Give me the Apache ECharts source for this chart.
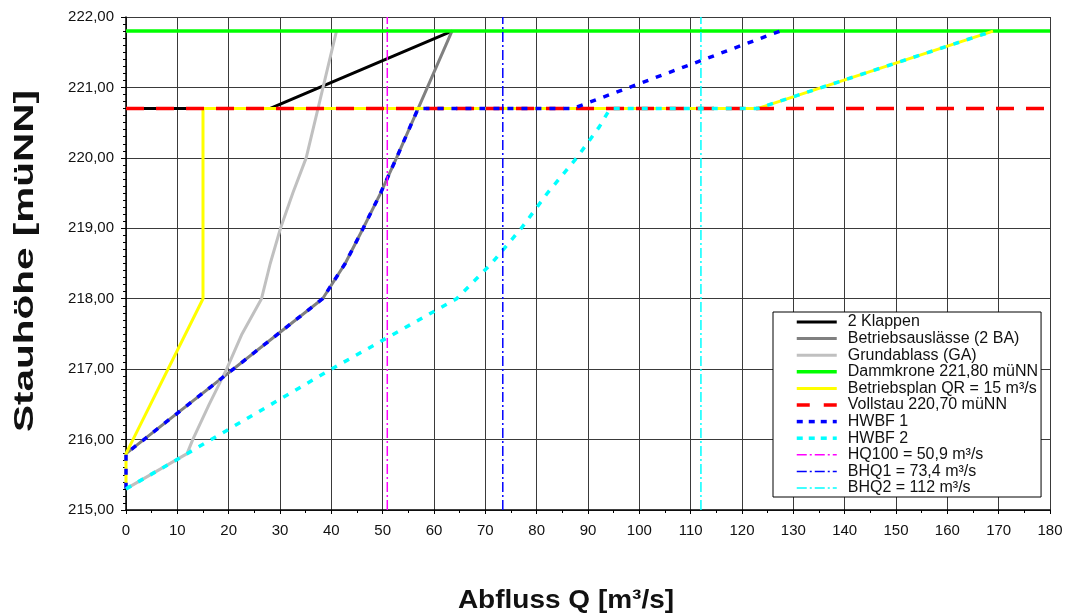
<!DOCTYPE html>
<html>
<head>
<meta charset="utf-8">
<script src="https://cdn.jsdelivr.net/npm/echarts@6/dist/echarts.min.js"></script>
<style>
  html, body { margin: 0; padding: 0; background: #fff; }
  #chart { width: 1067px; height: 616px; }
</style>
</head>
<body>
<div id="chart"></div>
<script>
// Abflusskurven: Stauhöhe [müNN] über Abfluss Q [m³/s]
const klappen = [[0, 220.70], [28.0, 220.70], [63.5, 221.80]];
const betriebsauslaesse = [[0, 215.80], [38.3, 218.00], [42.7, 218.50], [46.2, 219.00], [49.6, 219.50], [52.7, 220.00], [56.9, 220.70], [60.2, 221.25], [63.5, 221.80]];
const grundablass = [[0, 215.30], [11.9, 215.80], [13.0, 216.00], [16.2, 216.50], [19.6, 217.00], [22.6, 217.50], [26.4, 218.00], [28.1, 218.50], [30.1, 219.00], [32.5, 219.50], [35.1, 220.00], [37.4, 220.70], [41.0, 221.80]];
const dammkrone = [[0, 221.80], [180, 221.80]];
const betriebsplan = [[0, 215.30], [0, 215.80], [15.0, 218.00], [15.0, 220.70], [123.0, 220.70], [168.9, 221.80]];
const vollstau = [[0, 220.70], [180, 220.70]];
const hwbf1 = [[0, 215.30], [0, 215.80], [38.3, 218.00], [42.7, 218.50], [46.2, 219.00], [49.6, 219.50], [52.7, 220.00], [56.9, 220.70], [87.0, 220.70], [127.4, 221.80]];
const hwbf2 = [[0, 215.30], [11.9, 215.80], [40.0, 217.00], [64.4, 218.00], [71.2, 218.50], [77.0, 219.00], [82.1, 219.50], [87.8, 220.00], [92.2, 220.44], [94.3, 220.70], [123.0, 220.70], [168.9, 221.80]];
const hq100 = [[50.9, 215], [50.9, 222]];
const bhq1 = [[73.4, 215], [73.4, 222]];
const bhq2 = [[112, 215], [112, 222]];

const FONT = '"Liberation Sans", Arial, sans-serif';
const dashDot = [10, 3, 2, 3];

const seriesDefs = [
  { name: '2 Klappen', data: klappen, color: '#000000', width: 3, type: 'solid', z: 2 },
  { name: 'Betriebsauslässe (2 BA)', data: betriebsauslaesse, color: '#808080', width: 3, type: 'solid', z: 2 },
  { name: 'Grundablass (GA)', data: grundablass, color: '#c0c0c0', width: 3, type: 'solid', z: 2 },
  { name: 'Dammkrone 221,80 müNN', data: dammkrone, color: '#00ff00', width: 3.5, type: 'solid', z: 3 },
  { name: 'Betriebsplan QR = 15 m³/s', data: betriebsplan, color: '#ffff00', width: 3, type: 'solid', z: 3 },
  { name: 'Vollstau 220,70 müNN', data: vollstau, color: '#ff0000', width: 3.5, type: [18, 12], legendType: [13, 14], z: 4 },
  { name: 'HWBF 1', data: hwbf1, color: '#0000ff', width: 3.5, type: [6, 8], legendType: [6, 6], z: 5 },
  { name: 'HWBF 2', data: hwbf2, color: '#00ffff', width: 3.5, type: [6, 8], legendType: [6, 6], z: 5 },
  { name: 'HQ100 = 50,9 m³/s', data: hq100, color: '#ff00ff', width: 1.5, type: dashDot, z: 6 },
  { name: 'BHQ1 = 73,4 m³/s', data: bhq1, color: '#0000ff', width: 1.5, type: dashDot, z: 6 },
  { name: 'BHQ2 = 112 m³/s', data: bhq2, color: '#00ffff', width: 1.5, type: dashDot, z: 6 }
];

const chart = echarts.init(document.getElementById('chart'), null, { renderer: 'canvas' });
chart.setOption({
  backgroundColor: '#ffffff',
  animation: false,
  grid: { left: 126, right: 17, top: 17, bottom: 106, containLabel: false },
  xAxis: {
    type: 'value',
    min: 0, max: 180, interval: 10,
    axisLine: { show: true, onZero: false, lineStyle: { color: '#000', width: 1.5 } },
    axisTick: { show: true, inside: false, length: 4, lineStyle: { color: '#000' } },
    minorTick: { show: true, splitNumber: 2, length: 3, lineStyle: { color: '#000' } },
    axisLabel: { fontFamily: FONT, fontSize: 15, color: '#111', margin: 13 },
    splitLine: { show: true, lineStyle: { color: '#3a3a3a', width: 1 } }
  },
  yAxis: {
    type: 'value',
    min: 215, max: 222, interval: 1,
    axisLine: { show: true, onZero: false, lineStyle: { color: '#000', width: 1.5 } },
    axisTick: { show: true, inside: false, length: 5, lineStyle: { color: '#000' } },
    minorTick: { show: true, splitNumber: 10, length: 3, lineStyle: { color: '#000' } },
    axisLabel: {
      fontFamily: FONT, fontSize: 15, color: '#111', margin: 12,
      formatter: v => v.toFixed(2).replace('.', ',')
    },
    splitLine: { show: true, lineStyle: { color: '#3a3a3a', width: 1 } }
  },
  // axis titles, drawn as text elements so their run length can be set
  graphic: [
    {
      type: 'text', x: 26, y: 261, rotation: Math.PI / 2, scaleX: 1.5, scaleY: 1,
      style: { text: 'Stauhöhe [müNN]', font: 'bold 27px ' + FONT, fill: '#111', align: 'center', verticalAlign: 'middle' },
      silent: true
    },
    {
      type: 'text', x: 566, y: 601, scaleX: 1.12,
      style: { text: 'Abfluss Q [m³/s]', font: 'bold 25px ' + FONT, fill: '#111', align: 'center', verticalAlign: 'middle' },
      silent: true
    }
  ],
  legend: {
    orient: 'vertical',
    left: 773, top: 312,
    padding: [2, 3, 1, 22],
    itemWidth: 40, itemHeight: 12, itemGap: 0.6,
    backgroundColor: '#fff',
    borderColor: '#000', borderWidth: 1, borderRadius: 0,
    itemStyle: { opacity: 0 },
    textStyle: { fontFamily: FONT, fontSize: 16, color: '#111', padding: [0, 0, 0, 6] },
    selectedMode: false,
    data: seriesDefs.map(d => ({
      name: d.name,
      lineStyle: { width: d.width, type: d.legendType || d.type }
    }))
  },
  series: seriesDefs.map(d => ({
    name: d.name,
    type: 'line',
    data: d.data,
    symbol: 'none',
    silent: true,
    animation: false,
    z: d.z,
    lineStyle: { color: d.color, width: d.width, type: d.type, cap: 'butt' },
    itemStyle: { color: d.color }
  }))
});
</script>
</body>
</html>
